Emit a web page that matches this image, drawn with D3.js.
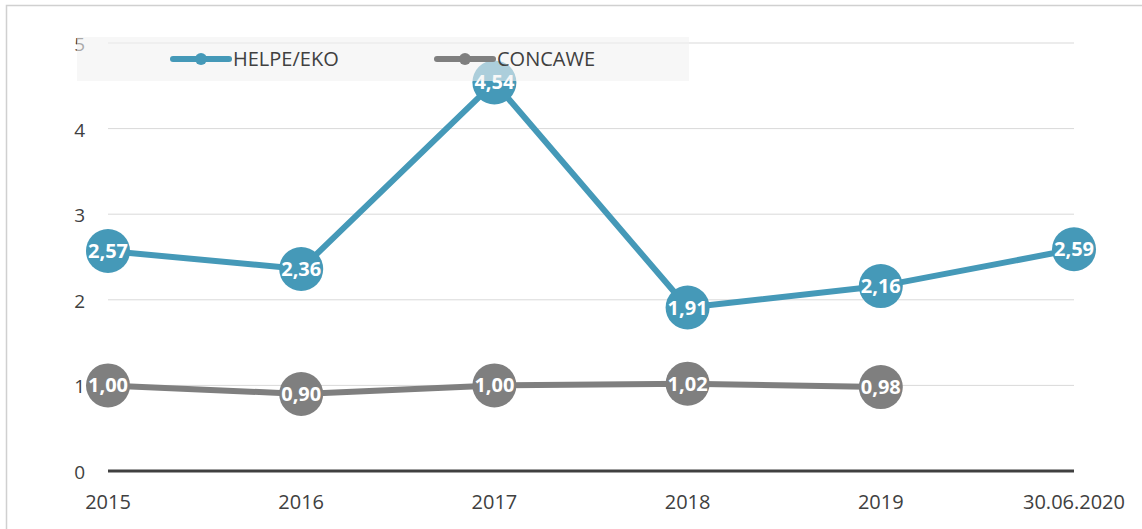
<!DOCTYPE html>
<html lang="en">
<head>
    <meta charset="UTF-8">
    <title>HELPE/EKO vs CONCAWE</title>
    <script src="https://d3js.org/d3.v7.min.js"></script>
    <style>
        body { margin: 0; background: #fff; font-family: "Open Sans", sans-serif; overflow: hidden; }
        svg { display: block; }
    </style>
</head>
<body>
    <svg width="1142" height="529"></svg>

    <script>
        const categories = ["2015", "2016", "2017", "2018", "2019", "30.06.2020"];
        const helpe = [2.57, 2.36, 4.54, 1.91, 2.16, 2.59];
        const concawe = [1.00, 0.90, 1.00, 1.02, 0.98];
        const yTicks = [0, 1, 2, 3, 4, 5];

        const series = [
            { name: "HELPE/EKO", values: helpe, color: "#4599b8" },
            { name: "CONCAWE", values: concawe, color: "#7f7f7f" }
        ];

        const svg = d3.select("svg");
        const m = { left: 108, right: 1074, top: 43, bottom: 471 };
        const fs = 20;

        // chart frame (left + top edges only are visible)
        svg.append("path")
            .attr("d", "M6.5,529V5.5H1142")
            .attr("fill", "none").attr("stroke", "#d0d0d0").attr("stroke-width", 1.5);

        const x = d3.scalePoint().domain(categories).range([m.left, m.right]).padding(0);
        const y = d3.scaleLinear().domain([0, 5]).range([m.bottom, m.top]);

        // gridlines
        svg.append("g").selectAll("line")
            .data(yTicks.filter(d => d > 0))
            .join("line")
            .attr("x1", m.left).attr("x2", m.right)
            .attr("y1", d => y(d)).attr("y2", d => y(d))
            .attr("stroke", "#d9d9d9").attr("stroke-width", 1);

        // y labels
        svg.append("g").selectAll("text")
            .data(yTicks)
            .join("text")
            .attr("x", 85).attr("y", d => y(d) + 8)
            .attr("text-anchor", "end")
            .attr("font-size", 19).attr("fill", "#404040")
            .text(d => d);

        // x axis
        svg.append("line")
            .attr("x1", m.left).attr("x2", m.right)
            .attr("y1", y(0)).attr("y2", y(0))
            .attr("stroke", "#404040").attr("stroke-width", 3);

        svg.append("g").selectAll("text")
            .data(categories)
            .join("text")
            .attr("x", d => x(d)).attr("y", 509)
            .attr("text-anchor", "middle")
            .attr("font-size", fs).attr("fill", "#404040")
            .text(d => d);

        const line = d3.line()
            .x((d, i) => x(categories[i]))
            .y(d => y(d));

        series.forEach(s => {
            const g = svg.append("g");
            g.append("path")
                .datum(s.values)
                .attr("d", line)
                .attr("fill", "none")
                .attr("stroke", s.color)
                .attr("stroke-width", 6)
                .attr("stroke-linejoin", "round");
            const pts = g.selectAll("g.pt")
                .data(s.values)
                .join("g")
                .attr("transform", (d, i) => `translate(${x(categories[i])},${y(d)})`);
            pts.append("circle").attr("r", 22).attr("fill", s.color);
            pts.append("text")
                .attr("text-anchor", "middle").attr("dy", 7)
                .attr("font-size", fs).attr("font-weight", "bold")
                .attr("fill", "#fff")
                .text(d => d.toFixed(2).replace(".", ","));
        });

        // legend
        const legend = svg.append("g");
        legend.append("rect")
            .attr("x", 77).attr("y", 37).attr("width", 612).attr("height", 44)
            .attr("fill", "#f2f2f2").attr("opacity", 0.6);
        const items = legend.selectAll("g.item")
            .data(series)
            .join("g")
            .attr("transform", (d, i) => `translate(${173 + i * 264},59)`);
        items.append("line")
            .attr("x1", 0).attr("x2", 56)
            .attr("stroke", d => d.color).attr("stroke-width", 6)
            .attr("stroke-linecap", "round");
        items.append("circle").attr("cx", 28).attr("r", 6).attr("fill", d => d.color);
        items.append("text")
            .attr("x", 60).attr("y", 7)
            .attr("font-size", fs).attr("fill", "#404040")
            .text(d => d.name);
    </script>
</body>
</html>
